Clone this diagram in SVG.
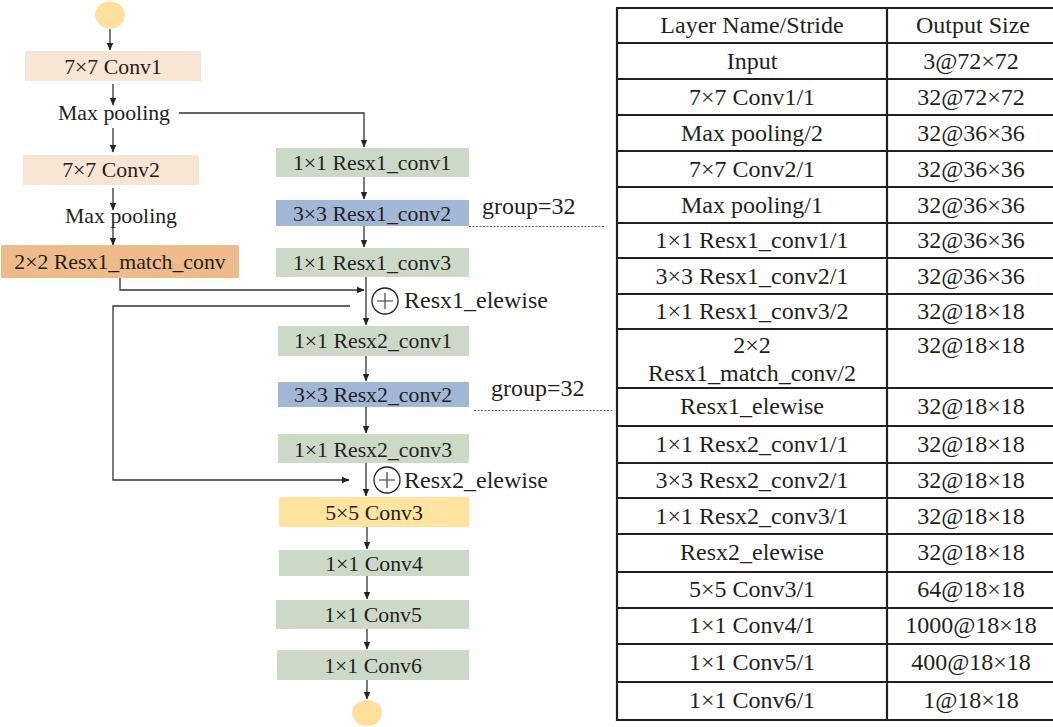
<svg xmlns="http://www.w3.org/2000/svg" width="1053" height="727" viewBox="0 0 1053 727" font-family="'Liberation Serif', 'Times New Roman', serif">
  <style>
    text { font-family: "Liberation Serif", "Times New Roman", serif; fill: #231f20; }
    .lbl { font-size: 21.8px; text-anchor: middle; }
    .ann { font-size: 24px; }
    .tbl { font-size: 24px; text-anchor: middle; }
    .peach { fill: #f9e5d3; }
    .orange { fill: #efbb8b; }
    .green { fill: #cdd9c7; }
    .blue { fill: #a2b7d6; }
    .yellow { fill: #ffe3a1; }
    .term { fill: #fedf9c; }
    .wire { fill: none; stroke: #333; stroke-width: 1.3; }
    .dot { fill: none; stroke: #666; stroke-width: 1; stroke-dasharray: 2 1.5; }
    .grid { stroke: #231f20; stroke-width: 2.2; fill: none; }
  </style>
  <defs>
    <marker id="arr" markerWidth="8" markerHeight="8" refX="7" refY="4" orient="auto" markerUnits="userSpaceOnUse">
      <path d="M0,0.8 L7.5,4 L0,7.2 Z" fill="#222"/>
    </marker>
  </defs>

  <rect width="1053" height="727" fill="#fff"/>

  <!-- network flow -->
  <g id="input"><ellipse cx="110" cy="15" rx="15" ry="13.5" class="term"/></g>
  <g id="conv1"><rect x="25" y="51" width="176" height="30" class="peach"/><text x="113" y="74" class="lbl">7×7 Conv1</text></g>
  <g id="pool1"><text x="114" y="120" class="lbl">Max pooling</text></g>
  <g id="conv2"><rect x="23" y="155" width="176" height="30" class="peach"/><text x="111" y="177" class="lbl">7×7 Conv2</text></g>
  <g id="pool2"><text x="121" y="223" class="lbl">Max pooling</text></g>
  <g id="match"><rect x="1" y="245" width="238" height="33" class="orange"/><text x="120" y="269" class="lbl">2×2 Resx1_match_conv</text></g>

  <g id="r1c1"><rect x="276" y="148" width="193" height="29" class="green"/><text x="372" y="170" class="lbl">1×1 Resx1_conv1</text></g>
  <g id="r1c2"><rect x="276" y="200" width="193" height="26" class="blue"/><text x="372" y="221" class="lbl">3×3 Resx1_conv2</text></g>
  <g id="g1"><text x="482" y="214" class="ann">group=32</text></g>
  <g id="r1c3"><rect x="276" y="248" width="193" height="29" class="green"/><text x="372" y="270" class="lbl">1×1 Resx1_conv3</text></g>
  <g id="r1sum"><circle cx="385" cy="301" r="13" fill="#fff" stroke="#222" stroke-width="1.3"/><path d="M377,301 H393 M385,293 V309" stroke="#333" stroke-width="1.1"/><text x="404" y="308" class="ann">Resx1_elewise</text></g>

  <g id="r2c1"><rect x="278" y="326" width="191" height="30" class="green"/><text x="373" y="348" class="lbl">1×1 Resx2_conv1</text></g>
  <g id="r2c2"><rect x="278" y="382" width="191" height="25" class="blue"/><text x="373" y="402" class="lbl">3×3 Resx2_conv2</text></g>
  <g id="g2"><text x="491" y="396" class="ann">group=32</text></g>
  <g id="r2c3"><rect x="278" y="434" width="191" height="29" class="green"/><text x="373" y="457" class="lbl">1×1 Resx2_conv3</text></g>
  <g id="r2sum"><circle cx="387" cy="480" r="13" fill="#fff" stroke="#222" stroke-width="1.3"/><path d="M379,480 H395 M387,472 V488" stroke="#333" stroke-width="1.1"/><text x="404" y="488" class="ann">Resx2_elewise</text></g>

  <g id="conv3"><rect x="279" y="497" width="190" height="30" class="yellow"/><text x="374" y="520" class="lbl">5×5 Conv3</text></g>
  <g id="conv4"><rect x="279" y="550" width="190" height="26" class="green"/><text x="374" y="571" class="lbl">1×1 Conv4</text></g>
  <g id="conv5"><rect x="276" y="600" width="193" height="29" class="green"/><text x="373" y="622" class="lbl">1×1 Conv5</text></g>
  <g id="conv6"><rect x="277" y="650" width="192" height="30" class="green"/><text x="373" y="673" class="lbl">1×1 Conv6</text></g>
  <g id="output"><ellipse cx="367" cy="713" rx="15" ry="13" class="term"/></g>

  <!-- connectors -->
  <g id="connectors">
    <path d="M110,29 V50" class="wire" marker-end="url(#arr)"/>
    <path d="M113,84 V105" class="wire" marker-end="url(#arr)"/>
    <path d="M113,128 V152" class="wire" marker-end="url(#arr)"/>
    <path d="M113,188 V210" class="wire" marker-end="url(#arr)"/>
    <path d="M113,228 V245" class="wire" marker-end="url(#arr)"/>
    <path d="M179,113 H364 V147" class="wire" marker-end="url(#arr)"/>
    <path d="M364,177 V199" class="wire" marker-end="url(#arr)"/>
    <path d="M364,226 V247" class="wire" marker-end="url(#arr)"/>
    <path d="M366,277 V325" class="wire" marker-end="url(#arr)"/>
    <path d="M120,278 V290 H364" class="wire" marker-end="url(#arr)"/>
    <path d="M350,306 H113 V480 H349" class="wire" marker-end="url(#arr)"/>
    <path d="M366,356 V381" class="wire" marker-end="url(#arr)"/>
    <path d="M366,407 V433" class="wire" marker-end="url(#arr)"/>
    <path d="M366,463 V496" class="wire" marker-end="url(#arr)"/>
    <path d="M367,527 V549" class="wire" marker-end="url(#arr)"/>
    <path d="M367,576 V599" class="wire" marker-end="url(#arr)"/>
    <path d="M367,629 V649" class="wire" marker-end="url(#arr)"/>
    <path d="M367,680 V699" class="wire" marker-end="url(#arr)"/>
    <path d="M469,226.5 H605" class="dot"/>
    <path d="M474,410.5 H612" class="dot"/>
  </g>

  <!-- layer table -->
  <g id="table">
    <path class="grid" d="M617,8 V721 M887,8 V721"/>
    <path class="grid" d="M616,8 H1053 M616,43 H1053 M616,79 H1053 M616,115 H1053 M616,151 H1053 M616,187 H1053 M616,223 H1053 M616,258 H1053 M616,294 H1053 M616,329 H1053 M616,388 H1053 M616,426 H1053 M616,463 H1053 M616,498 H1053 M616,534 H1053 M616,572 H1053 M616,608 H1053 M616,644 H1053 M616,682 H1053 M616,720 H1053"/>
    <text x="752" y="33" class="tbl">Layer Name/Stride</text><text x="973" y="33" class="tbl">Output Size</text>
    <text x="752" y="69" class="tbl">Input</text><text x="971" y="69" class="tbl">3@72×72</text>
    <text x="752" y="105" class="tbl">7×7 Conv1/1</text><text x="971" y="105" class="tbl">32@72×72</text>
    <text x="752" y="141" class="tbl">Max pooling/2</text><text x="971" y="141" class="tbl">32@36×36</text>
    <text x="752" y="177" class="tbl">7×7 Conv2/1</text><text x="971" y="177" class="tbl">32@36×36</text>
    <text x="752" y="213" class="tbl">Max pooling/1</text><text x="971" y="213" class="tbl">32@36×36</text>
    <text x="752" y="248" class="tbl">1×1 Resx1_conv1/1</text><text x="971" y="248" class="tbl">32@36×36</text>
    <text x="752" y="284" class="tbl">3×3 Resx1_conv2/1</text><text x="971" y="284" class="tbl">32@36×36</text>
    <text x="752" y="319" class="tbl">1×1 Resx1_conv3/2</text><text x="971" y="319" class="tbl">32@18×18</text>
    <text x="752" y="353" class="tbl">2×2</text><text x="752" y="381" class="tbl">Resx1_match_conv/2</text><text x="971" y="353" class="tbl">32@18×18</text>
    <text x="752" y="414" class="tbl">Resx1_elewise</text><text x="971" y="414" class="tbl">32@18×18</text>
    <text x="752" y="452" class="tbl">1×1 Resx2_conv1/1</text><text x="971" y="452" class="tbl">32@18×18</text>
    <text x="752" y="488" class="tbl">3×3 Resx2_conv2/1</text><text x="971" y="488" class="tbl">32@18×18</text>
    <text x="752" y="524" class="tbl">1×1 Resx2_conv3/1</text><text x="971" y="524" class="tbl">32@18×18</text>
    <text x="752" y="560" class="tbl">Resx2_elewise</text><text x="971" y="560" class="tbl">32@18×18</text>
    <text x="752" y="597" class="tbl">5×5 Conv3/1</text><text x="971" y="597" class="tbl">64@18×18</text>
    <text x="752" y="633" class="tbl">1×1 Conv4/1</text><text x="971" y="633" class="tbl">1000@18×18</text>
    <text x="752" y="670" class="tbl">1×1 Conv5/1</text><text x="971" y="670" class="tbl">400@18×18</text>
    <text x="752" y="708" class="tbl">1×1 Conv6/1</text><text x="971" y="708" class="tbl">1@18×18</text>
  </g>
</svg>
